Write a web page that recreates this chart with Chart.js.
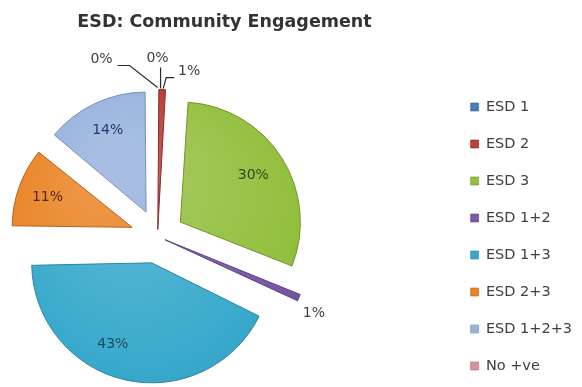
<!DOCTYPE html>
<html>
<head>
<meta charset="utf-8">
<script src="https://cdn.jsdelivr.net/npm/chart.js@4.4.1/dist/chart.umd.min.js"></script>
<style>
html,body{margin:0;padding:0;background:#fff;overflow:hidden;width:582px;height:387px}
#wrap{width:582px;height:387px;position:relative;overflow:hidden}
#c{position:absolute;left:-133px;top:0}
</style>
</head>
<body>
<div id="wrap"><canvas id="c" width="715" height="430"></canvas></div>
<script>
// ---- data ----
const chartTitle = 'ESD: Community Engagement';
const categories = ['ESD 1', 'ESD 2', 'ESD 3', 'ESD 1+2', 'ESD 1+3', 'ESD 2+3', 'ESD 1+2+3', 'No +ve'];
const percentValues = [0, 1, 30, 1, 43, 11, 14, 0];
const valueLabels = percentValues.map(v => v + '%');

// ---- styling (not data) ----
const sliceFill = ['#4a7ebb', '#b8403d', '#93bf3e', '#7b5aa8', '#38a9cc', '#ea8425', '#97b2dd', '#d9909a'];
const sliceEdge = ['#35608f', '#8a2c2a', '#6f9428', '#5b4080', '#2a86a4', '#b8631a', '#7890bb', '#b06a74'];
const explodePx = [0, 7, 27, 8, 27, 27, 27, 0];
const sliceRadius = [147, 140, 120, 146, 120, 120, 120, 147];
const labelStyle = [
  {out: [0, -31], lead: [[3, -1], [3, -22]]},
  {out: [27, -18], lead: [[1, -1], [4, -12], [12, -12]]},
  {inside: 0.72, color: '#34471a'},
  {out: [15, 16]},
  {inside: 0.75, shift: 13, color: '#1d4a5c'},
  {inside: 0.75, color: '#5a2410'},
  {inside: 0.75, color: '#24386a'},
  {out: [-56, -30], lead: [[0, -2], [-28, -24], [-40, -24]]}
];

function mix(hex, hex2, f) {
  const a = parseInt(hex.slice(1), 16), b = parseInt(hex2.slice(1), 16);
  const ch = s => Math.round(((a >> s) & 255) * (1 - f) + ((b >> s) & 255) * f);
  return 'rgb(' + ch(16) + ',' + ch(8) + ',' + ch(0) + ')';
}

const arcGeometry = {
  id: 'arcGeometry',
  beforeDatasetsDraw(chart) {
    chart.getDatasetMeta(0).data.forEach((arc, i) => {
      const t = (arc.options.offset || 0) / 4;
      const fix = 1 - Math.sin(Math.min(Math.PI, arc.circumference || 0));
      arc.outerRadius = Math.max(sliceRadius[i] - t * fix, 0);
    });
  }
};

const sliceLabels = {
  id: 'sliceLabels',
  afterDatasetsDraw(chart) {
    const ctx = chart.ctx;
    const meta = chart.getDatasetMeta(0);
    ctx.save();
    ctx.font = '14px "DejaVu Sans"';
    ctx.textAlign = 'center';
    ctx.textBaseline = 'middle';
    meta.data.forEach((arc, i) => {
      const {x, y, startAngle, endAngle} = arc.getProps(['x', 'y', 'startAngle', 'endAngle'], true);
      const mid = (startAngle + endAngle) / 2;
      const t = (arc.options.offset || 0) / 4;
      const r = sliceRadius[i];
      const ux = Math.cos(mid), uy = Math.sin(mid);
      const ax = x + ux * t, ay = y + uy * t;
      const L = labelStyle[i];
      if (L.inside) {
        const a = mid + (L.shift || 0) * Math.PI / 180;
        ctx.fillStyle = L.color;
        ctx.fillText(valueLabels[i], ax + Math.cos(a) * r * L.inside, ay + Math.sin(a) * r * L.inside);
      } else {
        const px = ax + ux * r, py = ay + uy * r;
        if (L.lead) {
          ctx.beginPath();
          L.lead.forEach(([dx, dy], k) => k ? ctx.lineTo(px + dx, py + dy) : ctx.moveTo(px + dx, py + dy));
          ctx.strokeStyle = '#2a2a2a';
          ctx.lineWidth = 1.2;
          ctx.stroke();
        }
        ctx.fillStyle = '#404040';
        ctx.fillText(valueLabels[i], px + L.out[0], py + L.out[1]);
      }
    });
    ctx.restore();
  }
};

const baseLegendLabels = (Chart.overrides.pie || Chart.overrides.doughnut).plugins.legend.labels.generateLabels;

new Chart(document.getElementById('c'), {
  type: 'pie',
  data: {
    labels: categories,
    datasets: [{
      data: percentValues,
      backgroundColor(context) {
        const i = context.dataIndex;
        const base = sliceFill[i];
        const ca = context.chart.chartArea;
        if (!ca) return base;
        const cx = (ca.left + ca.right) / 2, cy = (ca.top + ca.bottom) / 2;
        const g = context.chart.ctx.createRadialGradient(cx - 30, cy - 50, 20, cx, cy, 170);
        g.addColorStop(0, mix(base, '#ffffff', 0.15));
        g.addColorStop(0.7, base);
        g.addColorStop(1, mix(base, '#000000', 0.12));
        return g;
      },
      borderColor: sliceEdge,
      borderWidth: 1,
      offset: explodePx.map(p => p * 4),
      clip: false
    }]
  },
  plugins: [arcGeometry, sliceLabels],
  options: {
    responsive: false,
    devicePixelRatio: 1,
    animation: false,
    events: [],
    layout: {padding: 0},
    plugins: {
      tooltip: {enabled: false},
      title: {
        display: true,
        text: chartTitle,
        color: '#333333',
        font: {family: 'DejaVu Sans', size: 17.5, weight: 'bold'},
        padding: {top: 12, bottom: 10},
        fullSize: true
      },
      legend: {
        position: 'right',
        fullSize: false,
        align: 'center',
        labels: {
          boxWidth: 8,
          boxHeight: 8,
          padding: 22.5,
          color: '#404040',
          font: {family: 'DejaVu Sans', size: 14.5},
          generateLabels(chart) {
            return baseLegendLabels(chart).map((it, i) => Object.assign(it, {
              fillStyle: sliceFill[i], strokeStyle: sliceEdge[i], lineWidth: 0.6
            }));
          }
        }
      }
    }
  }
});
</script>
</body>
</html>
